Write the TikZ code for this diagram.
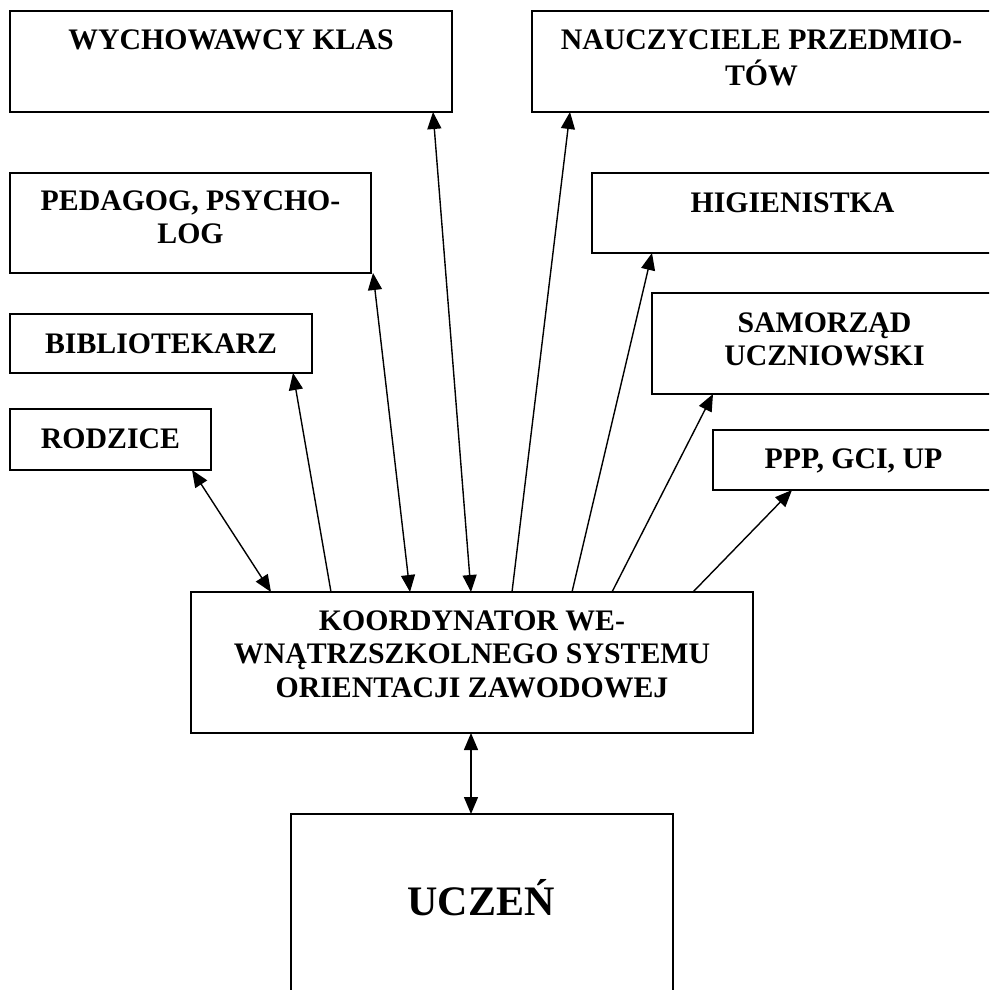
\documentclass[tikz,border=0pt]{standalone}
\usepackage{fontspec}
\setmainfont{Liberation Serif}
\usetikzlibrary{arrows.meta}
\begin{document}
\begin{tikzpicture}[x=1pt,y=-1pt,
  box/.style={draw, line width=1.5pt, inner sep=0pt, outer sep=0pt, anchor=north west},
  lbl/.style={font=\bfseries\fontsize{29.8}{33.5}\selectfont, inner sep=0pt, anchor=base},
  big/.style={font=\bfseries\fontsize{42}{48}\selectfont, inner sep=0pt, anchor=base},
  tip/.tip={Triangle[length=17pt,width=14pt]},
  conn/.style={line width=1.4pt, -tip},
  conn2/.style={line width=1.4pt, tip-tip}]
\useasboundingbox (0,0) rectangle (989,990);
\clip (0,0) rectangle (989,990);
% boxes
\node[box, minimum width=442pt, minimum height=101pt] (wych) at (10,11) {};
\node[box, minimum width=459pt, minimum height=101pt] (nauc) at (532,11) {};
\node[box, minimum width=361pt, minimum height=100pt] (ped) at (10,173) {};
\node[box, minimum width=401pt, minimum height=80pt] (hig) at (592,173) {};
\node[box, minimum width=302pt, minimum height=59pt] (bib) at (10,314) {};
\node[box, minimum width=345pt, minimum height=101pt] (sam) at (652,293) {};
\node[box, minimum width=201pt, minimum height=61pt] (rodz) at (10,409) {};
\node[box, minimum width=281pt, minimum height=60pt] (ppp) at (713,430) {};
\node[box, minimum width=562pt, minimum height=141pt] (koord) at (191,592) {};
\node[box, minimum width=382pt, minimum height=200pt] (ucz) at (291,814) {};
% texts
\node[lbl] (wychT) at (231,50) {WYCHOWAWCY KLAS};
\node[lbl] (naucT) at (761.5,50) {\begin{tabular}[t]{@{}c@{}}NAUCZYCIELE PRZEDMIO-\\TÓW\end{tabular}};
\node[lbl] (pedT) at (190.5,210) {\begin{tabular}[t]{@{}c@{}}PEDAGOG, PSYCHO-\\LOG\end{tabular}};
\node[lbl] (higT) at (792.5,212) {HIGIENISTKA};
\node[lbl] (bibT) at (161,353) {BIBLIOTEKARZ};
\node[lbl] (samT) at (824.5,332) {\begin{tabular}[t]{@{}c@{}}SAMORZĄD\\UCZNIOWSKI\end{tabular}};
\node[lbl] (rodzT) at (110.5,448) {RODZICE};
\node[lbl] (pppT) at (853.5,468) {PPP, GCI, UP};
\node[lbl] (koordT) at (472,630) {\begin{tabular}[t]{@{}c@{}}KOORDYNATOR WE-\\WNĄTRZSZKOLNEGO SYSTEMU\\ORIENTACJI ZAWODOWEJ\end{tabular}};
\node[big] (uczT) at (481,915) {UCZEŃ};
% connectors
\draw[conn2] ([xshift=182pt]rodz.south west) -- ([xshift=80pt]koord.north west);
\draw[conn] ([xshift=140pt]koord.north west) -- ([xshift=283pt]bib.south west);
\draw[conn2] ([xshift=363pt]ped.south west) -- ([xshift=219pt]koord.north west);
\draw[conn2] ([xshift=423pt]wych.south west) -- ([xshift=280pt]koord.north west);
\draw[conn] ([xshift=321pt]koord.north west) -- ([xshift=38pt]nauc.south west);
\draw[conn] ([xshift=381pt]koord.north west) -- ([xshift=60pt]hig.south west);
\draw[conn] ([xshift=421pt]koord.north west) -- ([xshift=61pt]sam.south west);
\draw[conn] ([xshift=502pt]koord.north west) -- ([xshift=79pt]ppp.south west);
\draw[conn2] ([xshift=280pt]koord.south west) -- ([xshift=180pt]ucz.north west);
\end{tikzpicture}
\end{document}
